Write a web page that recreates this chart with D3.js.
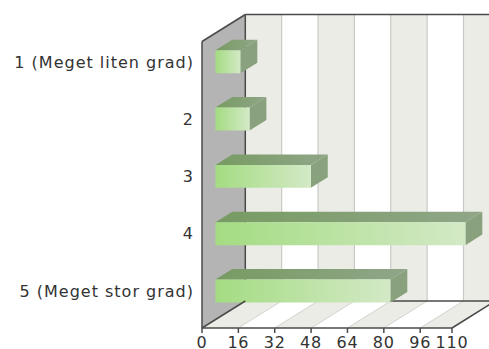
<!DOCTYPE html>
<html><head><meta charset="utf-8">
<script src="https://cdn.jsdelivr.net/npm/d3@7"></script>
<style>html,body{margin:0;padding:0;background:#fff;}svg{display:block;}</style>
</head><body>
<script>
const categories = ["1 (Meget liten grad)", "2", "3", "4", "5 (Meget stor grad)"];
const values = [11, 15, 42, 110, 77];
const tickValues = [0, 16, 32, 48, 64, 80, 96, 110];

(function () {
const W = 489, H = 349;
const svg = d3.select("body").append("svg").attr("width", W).attr("height", H);
const defs = svg.append("defs");

const pLeft = 202, pTop = 41.5, pBottom = 328;
const depthX = 43.3, depthY = -27;
const x = d3.scaleLinear().domain([0, 110]).range([pLeft, pLeft + 250]);
const y = d3.scaleBand().domain(categories).range([pTop, pBottom]).paddingInner(0.6).paddingOuter(0.3);
const z1 = 0.31, z2 = 0.70;
const P = (px, py, z) => [px + depthX * z, py + depthY * z];
const poly = pts => "M" + pts.map(p => p.join(",")).join("L") + "Z";

const g = svg.append("g");
for (let i = 0; i < tickValues.length - 1; i++) {
  const a = tickValues[i], b = tickValues[i + 1];
  g.append("path").attr("d", poly([P(x(a), pTop, 1), P(x(b), pTop, 1), P(x(b), pBottom, 1), P(x(a), pBottom, 1)]))
    .attr("fill", i % 2 === 0 ? "#ecece7" : "#ffffff");
  g.append("path").attr("d", poly([P(x(a), pBottom, 0), P(x(b), pBottom, 0), P(x(b), pBottom, 1), P(x(a), pBottom, 1)]))
    .attr("fill", i % 2 === 0 ? "#ecece7" : "#ffffff");
}
tickValues.slice(1).forEach(t => {
  const b1 = P(x(t), pTop, 1), b2 = P(x(t), pBottom, 1), f = P(x(t), pBottom, 0);
  g.append("line").attr("x1", b1[0]).attr("y1", b1[1]).attr("x2", b2[0]).attr("y2", b2[1]).attr("stroke", "#c9c9c6").attr("stroke-width", 1.2);
  g.append("line").attr("x1", f[0]).attr("y1", f[1]).attr("x2", b2[0]).attr("y2", b2[1]).attr("stroke", "#d2d2ce").attr("stroke-width", 1);
});
g.append("path").attr("d", poly([P(pLeft, pTop, 0), P(pLeft, pTop, 1), P(pLeft, pBottom, 1), P(pLeft, pBottom, 0)])).attr("fill", "#b4b4b4");

const edge = "#4a4a4a";
const line = (p1, p2) => g.append("line").attr("x1", p1[0]).attr("y1", p1[1]).attr("x2", p2[0]).attr("y2", p2[1])
  .attr("stroke", edge).attr("stroke-width", 1.5);
line(P(pLeft, pTop, 1), P(x(110), pTop, 1));
line(P(pLeft, pTop, 1), P(pLeft, pBottom, 1));
line(P(pLeft, pBottom, 1), P(x(110) + 60, pBottom, 1));
line(P(pLeft, pTop, 0), P(pLeft, pTop, 1));

const gf = defs.append("linearGradient").attr("id", "gf");
gf.append("stop").attr("offset", "0%").attr("stop-color", "#a4dc82");
gf.append("stop").attr("offset", "100%").attr("stop-color", "#d3e9c6");
const gt = defs.append("linearGradient").attr("id", "gt");
gt.append("stop").attr("offset", "0%").attr("stop-color", "#779b62");
gt.append("stop").attr("offset", "100%").attr("stop-color", "#90a688");

const bars = g.selectAll("g.bar").data(categories.map((c, i) => ({c, v: values[i]}))).join("g").attr("class", "bar");
bars.each(function (d) {
  const s = d3.select(this);
  const y0 = y(d.c), y1 = y(d.c) + y.bandwidth();
  const x0 = x(0), x1 = x(d.v);
  s.append("path").attr("d", poly([P(x0, y0, z1), P(x1, y0, z1), P(x1, y0, z2), P(x0, y0, z2)])).attr("fill", "url(#gt)");
  s.append("path").attr("d", poly([P(x1, y0, z1), P(x1, y0, z2), P(x1, y1, z2), P(x1, y1, z1)])).attr("fill", "#89a17c");
  s.append("path").attr("d", poly([P(x0, y0, z1), P(x1, y0, z1), P(x1, y1, z1), P(x0, y1, z1)])).attr("fill", "url(#gf)");
});

line(P(pLeft, pTop, 0), P(pLeft, pBottom, 0));
line(P(pLeft, pBottom, 0), P(x(110), pBottom, 0));
line(P(x(110), pBottom, 0), P(x(110), pBottom, 1));
line(P(pLeft, pBottom, 0), P(pLeft, pBottom, 1));

const ax = svg.append("g");
tickValues.forEach(t => {
  ax.append("line").attr("x1", x(t)).attr("x2", x(t)).attr("y1", pBottom).attr("y2", pBottom + 5).attr("stroke", edge).attr("stroke-width", 1.5);
  ax.append("text").attr("x", x(t)).attr("y", 348).attr("text-anchor", "middle")
    .attr("font-family", "DejaVu Sans").attr("font-size", 16).attr("letter-spacing", 0.8).attr("fill", "#333").text(t);
});
categories.forEach(c => {
  ax.append("text").attr("x", 194).attr("y", y(c) + y.bandwidth() / 2 + depthY * z1).attr("dy", "0.36em").attr("text-anchor", "end")
    .attr("font-family", "DejaVu Sans").attr("font-size", 16).attr("letter-spacing", 1).attr("fill", "#333").text(c);
});
})();
</script>
</body></html>
